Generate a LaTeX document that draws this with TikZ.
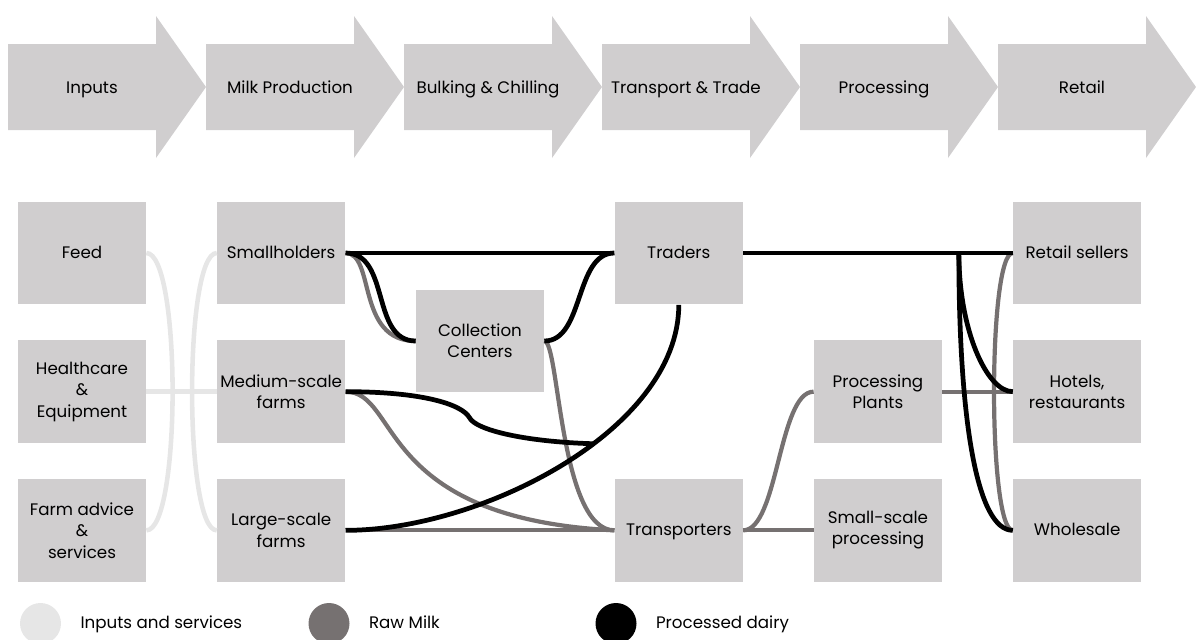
\documentclass[tikz,border=0pt]{standalone}
\usepackage{fontspec}
\setmainfont{Poppins}
\usetikzlibrary{positioning,calc}

\definecolor{boxgray}{HTML}{D0CECF}
\definecolor{inputgray}{HTML}{E6E6E6}
\definecolor{rawgray}{HTML}{767171}

\begin{document}
\begin{tikzpicture}[
    x=0.02cm, y=-0.02cm,
    node distance=0.70cm and 1.41cm,
    every node/.style={font=\fontsize{9.5}{12.2}\selectfont},
    oneline/.style={text height=1.55ex, text depth=.45ex},
    box/.style={fill=boxgray, minimum width=2.56cm, minimum height=2.06cm, align=center, inner sep=1pt},
    stage/.style={fill=boxgray},
    inputline/.style={draw=inputgray, line width=2.6pt},
    rawline/.style={draw=rawgray, line width=2.4pt},
    dairyline/.style={draw=black, line width=2.7pt},
    legdot/.style={circle, minimum size=0.82cm, inner sep=0pt}
]
\useasboundingbox (0,0) rectangle (1196,639);

% value chain stages
\foreach \lbl [count=\i from 0] in {Inputs,Milk Production,Bulking \& Chilling,Transport \& Trade,Processing,Retail} {
    \fill[stage] ({8+198*\i},44) -- ++(148,0) -- ++(0,-28) -- ++(50,71) -- ++(-50,71) -- ++(0,-28) -- ++(-148,0) -- cycle;
    \node[oneline] (stage\i) at ({92+198*\i},88) {\lbl};
}

% actors
\node[box, oneline] (feed) at (82,253) {Feed};
\node[box, below=of feed] (care) {Healthcare\\\&\\Equipment};
\node[box, below=of care] (advice) {Farm advice\\\&\\services};
\node[box, oneline, right=of feed] (small) {Smallholders};
\node[box, below=of small] (medium) {Medium-scale\\farms};
\node[box, below=of medium] (large) {Large-scale\\farms};
\node[box] (coll) at (480,341) {Collection\\Centers};
\node[box, oneline, right=5.38cm of small] (traders) {Traders};
\node[box, oneline, right=5.38cm of large] (trans) {Transporters};
\node[box, right=of trans] (smallproc) {Small-scale\\processing};
\node[box, above=of smallproc] (plants) {Processing\\Plants};
\node[box, right=of plants] (hotels) {Hotels,\\restaurants};
\node[box, oneline, above=of hotels] (retail) {Retail sellers};
\node[box, oneline, below=of hotels] (whole) {Wholesale};

% inputs and services
\draw[inputline] (feed.east) .. controls +(35,0) and +(35,0) .. (advice.east);
\draw[inputline] (small.west) .. controls +(-33,0) and +(-33,0) .. (large.west);
\draw[inputline] (care.east) -- (medium.west);

% raw milk
\draw[rawline] (small.east) .. controls +(30,0) and +(-60,0) .. (coll.west);
\draw[rawline] (coll.east) .. controls +(15,0) and +(-55,0) .. (trans.west);
\draw[rawline] (medium.east) .. controls +(55,0) and +(-240,-12) .. (trans.west);
\draw[rawline] (large.east) -- (trans.west);
\draw[rawline] (trans.east) .. controls +(35,0) and +(-35,0) .. (plants.west);
\draw[rawline] (trans.east) -- (smallproc.west);
\draw[rawline] (plants.east) -- (hotels.west);
\draw[rawline] (retail.west) .. controls +(-25,0) and +(-25,0) .. (whole.west);

% processed dairy
\draw[dairyline] (small.east) -- (traders.west);
\draw[dairyline] (small.east) .. controls +(45,0) and +(-45,0) .. (coll.west);
\draw[dairyline] (coll.east) .. controls +(40,0) and +(-40,0) .. (traders.west);
\draw[dairyline] (traders.south) .. controls +(0,125) and +(136,0) .. coordinate[pos=0.42] (meet) (large.east);
\coordinate (kink) at ($(medium.east)!0.5!(meet)$);
\draw[dairyline] (medium.east) .. controls +(75,0) and +(-8,-14) .. (kink)
    .. controls +(6,12) and +(-70,-2) .. (meet);
\draw[dairyline] (traders.east) -- coordinate[pos=0.8] (split) (retail.west);
\draw[dairyline] (split) .. controls +(0,77) and +(-26,0) .. (hotels.west);
\draw[dairyline] (split) .. controls +(0,167) and +(-36,0) .. (whole.west);

% legend
\node[legdot, fill=inputgray] (legin) at (40.5,623.5) {};
\node[oneline, right=0.26cm of legin] (legintext) {Inputs and services};
\node[legdot, fill=rawgray] (legraw) at (329,623.5) {};
\node[oneline, right=0.26cm of legraw] (legrawtext) {Raw Milk};
\node[legdot, fill=black] (legdairy) at (616,623.5) {};
\node[oneline, right=0.26cm of legdairy] (legdairytext) {Processed dairy};
\end{tikzpicture}
\end{document}
